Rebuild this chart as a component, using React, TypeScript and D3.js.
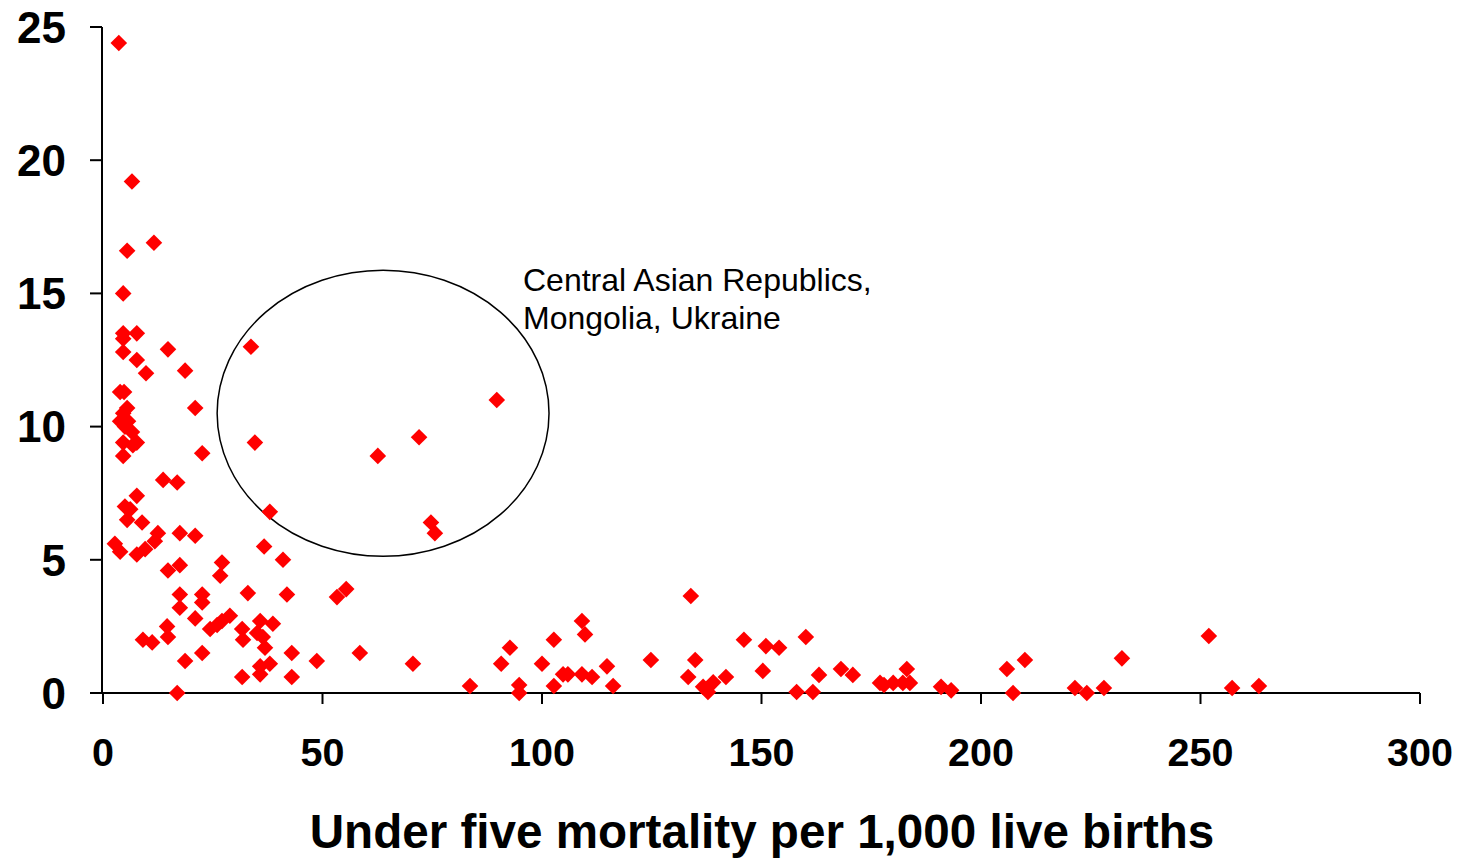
import React from "react";
import * as d3 from "d3";

const mortality: number[] = [
  3.6, 6.6, 5.5, 11.6, 4.6, 4.6, 7.7, 4.6, 4.6, 7.7, 9.8, 14.8, 18.7, 21.0, 22.6,
  3.9, 4.8, 5.5, 4.6, 3.9, 5.0, 5.7, 6.6, 7.7, 4.6, 6.8, 4.6,
  13.7, 16.9, 7.7, 5.0, 6.2, 5.5, 8.9, 12.5, 17.5, 21.0, 2.7, 3.9, 7.7, 9.6, 11.8,
  14.8, 17.5, 27.1, 26.7, 41.0, 17.5, 22.6, 22.6, 17.5, 33.0, 41.9,
  21.0, 24.4, 26.0, 27.1, 28.9, 14.6, 14.8, 9.1, 11.2, 31.7, 31.9, 35.8, 38.7, 35.1,
  36.4, 36.9, 43.0, 18.7, 22.6, 31.7, 35.8, 38.0, 35.8, 43.0, 16.9, 36.7, 38.0,
  33.7, 34.6, 62.6, 72.0, 89.7, 74.7, 75.6,
  53.3, 55.4, 48.7, 58.5, 70.6, 83.6, 92.7, 90.7, 94.8, 94.8, 100.0, 102.7, 102.7,
  104.8, 105.9, 109.1, 109.8, 109.1, 111.4, 114.8, 116.2,
  124.8, 133.9, 134.9, 133.3, 136.7, 137.8, 139.0, 141.9, 146.0, 150.3, 151.0, 154.0,
  158.0, 160.1, 161.7, 163.1, 168.1, 170.8, 177.0, 177.9, 180.0, 183.1, 182.2, 183.8,
  190.9, 193.2, 205.9, 210.0, 207.3, 221.4, 224.1, 228.0, 232.1, 251.9, 257.2, 263.3,
];

const share: number[] = [
  24.4, 19.2, 16.6, 16.9, 15.0, 13.5, 13.5, 13.3, 12.8, 12.5, 12.0, 12.9, 12.1, 10.7, 9.0,
  11.3, 11.3, 10.7, 10.5, 10.2, 10.0, 10.2, 9.8, 9.4, 9.4, 9.3, 8.9,
  8.0, 7.9, 7.4, 7.0, 6.9, 6.5, 6.4, 6.0, 6.0, 5.9, 5.6, 5.3, 5.2, 5.4, 5.7,
  4.6, 4.8, 4.9, 4.4, 5.0, 3.7, 3.7, 3.4, 3.2, 3.75, 3.7,
  2.8, 2.4, 2.55, 2.7, 2.9, 2.5, 2.1, 2.0, 1.9, 2.4, 2.0, 2.7, 2.6, 2.25,
  2.1, 1.7, 1.5, 1.2, 1.5, 0.6, 1.0, 1.1, 0.7, 0.6, 0.0, 5.5, 6.8,
  13.0, 9.4, 8.9, 9.6, 11.0, 6.4, 6.0,
  3.6, 3.9, 1.2, 1.5, 1.1, 0.26, 1.7, 1.1, 0.3, 0.0, 1.1, 2.0, 0.26,
  0.7, 0.7, 2.7, 2.2, 0.7, 0.6, 1.0, 0.26,
  1.24, 3.64, 1.24, 0.6, 0.23, 0.04, 0.4, 0.6, 2.0, 0.83, 1.76, 1.7,
  0.04, 2.1, 0.04, 0.68, 0.9, 0.68, 0.38, 0.3, 0.38, 0.9, 0.38, 0.38,
  0.23, 0.1, 0.9, 1.24, 0.0, 0.19, 0.0, 0.19, 1.3, 2.14, 0.19, 0.26,
];

const xTicks: number[] = [0, 50, 100, 150, 200, 250, 300];
const yTicks: number[] = [0, 5, 10, 15, 20, 25];
const xTitle = "Under five mortality per 1,000 live births";
const noteLines: string[] = ["Central Asian Republics,", "Mongolia, Ukraine"];
// ellipse around the highlighted group, in data units: [cx, cy, rx, ry]
const ellipseData: number[] = [63.8, 10.5, 37.8, 5.37];

const FONT = "'Liberation Sans', Arial, Helvetica, sans-serif";

export default function App() {
  const W = 1463;
  const H = 861;
  const x = d3.scaleLinear().domain([0, 300]).range([103, 1420]);
  const y = d3.scaleLinear().domain([0, 25]).range([693, 27]);
  const diamond = "M0,-8.3L8.3,0L0,8.3L-8.3,0Z";

  const [ecx, ecy, erx, ery] = ellipseData;

  return (
    <svg
      width={W}
      height={H}
      style={{ position: "absolute", left: 0, top: 0, background: "#fff" }}
      fontFamily={FONT}
    >
      <rect x={0} y={0} width={W} height={H} fill="#fff" />
      {/* axes */}
      <line x1={x(0) - 1} x2={x(0) - 1} y1={y(25)} y2={y(0)} stroke="#000" strokeWidth={2} />
      <line x1={x(0) - 1} x2={x(300)} y1={y(0)} y2={y(0)} stroke="#000" strokeWidth={2} />
      {yTicks.map((t) => (
        <g key={"y" + t}>
          <line x1={x(0) - 13} x2={x(0) - 1} y1={y(t)} y2={y(t)} stroke="#000" strokeWidth={2} />
          <text
            x={66}
            y={y(t)}
            dy="0.36em"
            textAnchor="end"
            fontSize={44}
            fontWeight="bold"
            fill="#000"
          >
            {t}
          </text>
        </g>
      ))}
      {xTicks.map((t) => (
        <g key={"x" + t}>
          <line x1={x(t)} x2={x(t)} y1={y(0)} y2={y(0) + 11} stroke="#000" strokeWidth={2} />
          <text
            x={x(t)}
            y={766}
            textAnchor="middle"
            fontSize={39.5}
            fontWeight="bold"
            fill="#000"
          >
            {t}
          </text>
        </g>
      ))}
      <text x={762} y={848} textAnchor="middle" fontSize={47.6} fontWeight="bold" fill="#000">
        {xTitle}
      </text>
      {/* ellipse annotation */}
      <ellipse
        cx={x(ecx)}
        cy={y(ecy)}
        rx={x(ecx + erx) - x(ecx)}
        ry={y(ecy - ery) - y(ecy)}
        fill="none"
        stroke="#000"
        strokeWidth={1.5}
      />
      {noteLines.map((l, i) => (
        <text key={l} x={523} y={291 + i * 38} fontSize={32} fill="#000">
          {l}
        </text>
      ))}
      {/* points */}
      {mortality.map((m, i) => (
        <path
          key={i}
          d={diamond}
          transform={`translate(${x(m)},${y(share[i])})`}
          fill="#FF0000"
        />
      ))}
    </svg>
  );
}
